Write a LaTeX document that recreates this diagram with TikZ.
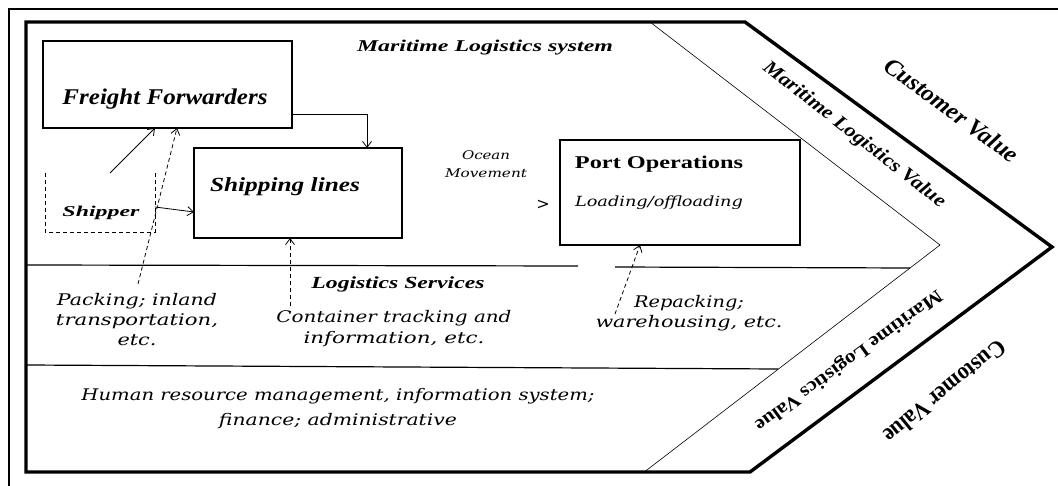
\documentclass[tikz,border=0pt]{standalone}
\usepackage{fontspec}
\usetikzlibrary{arrows.meta}
\setmainfont{DejaVu Serif}
\newfontfamily\tnr{Liberation Serif}
\newfontfamily\dvs{DejaVu Serif}
\newcommand{\fitw}[2]{\resizebox{#1}{\height}{#2}}
\begin{document}
\begin{tikzpicture}[x=1pt,y=-1pt,
  box/.style={draw, line width=2.6pt, inner sep=0pt, outer sep=0pt},
  arr/.style={line width=0.8pt, -{Straight Barb[length=6pt,width=9pt]}},
  darr/.style={arr, dash pattern=on 4pt off 3pt},
  sep/.style={line width=1.2pt},
  txt/.style={inner sep=0pt, align=center},
  bi/.style={txt, font={\tnr\bfseries\itshape\fontsize{#1}{#1}\selectfont}},
  bu/.style={txt, font={\tnr\bfseries\fontsize{#1}{#1}\selectfont}},
  it/.style={txt, font={\dvs\itshape\fontsize{#1}{20}\selectfont}}
]
\useasboundingbox (0,0) rectangle (1058,486);
\fill[white] (0,0) rectangle (1058,486);
% frames
\draw[line width=1.2pt] (9,486) -- (9,9) -- (1058,9);
\draw[line width=3.4pt, line join=miter] (26,22) -- (745,22) -- (1052,247) -- (750,472) -- (26,472) -- cycle;
\draw[line width=0.6pt] (650,22) -- (940,245) -- (643,473);
\draw[sep] (26,265) -- (578,266);
\draw[sep] (615,267) -- (910,268);
\draw[sep] (26,365) -- (778,369);
% boxes
\node[box, minimum width=249pt, minimum height=87pt] (ff) at (167.5,84.5) {};
\node[box, minimum width=208pt, minimum height=90pt] (sl) at (298,193) {};
\node[box, minimum width=240pt, minimum height=105pt] (po) at (680,192.5) {};
\node[inner sep=0pt, outer sep=0pt, minimum width=110pt, minimum height=59pt] (shp) at (100,202.5) {};
\draw[line width=0.9pt, dash pattern=on 4pt off 3pt] (shp.north west) -- (shp.south west) -- (shp.south east) -- (shp.north east);
% connectors
\draw[arr] (ff.east |- 0,114) -| (367,0 |- sl.north);
\coordinate (s1) at (110,173);
\draw[arr] (s1) -- (155,0 |- ff.south);
\coordinate (pk) at (138,284);
\draw[darr] (pk) -- (177,0 |- ff.south);
\draw[arr] (shp.east |- 0,207) -- (sl.west |- 0,212);
\coordinate (ct) at (290,306);
\draw[darr] (ct) -- (ct |- sl.south);
\coordinate (rp) at (615,314);
\draw[darr] (rp) -- (640,0 |- po.south);
% texts
\node[bi=16.5] (t1) at (485,48) {\fitw{256pt}{Maritime Logistics system}};
\node[bi=22.5] (t2) at (165,99) {\fitw{205pt}{Freight Forwarders}};
\node[bi=20] (t3) at (285,187) {\fitw{150pt}{Shipping lines}};
\node[bi=15] (t4) at (101,213) {\fitw{77pt}{Shipper}};
\node[bi=17] (t5) at (398,284) {\fitw{173pt}{Logistics Services}};
\node[bu=18] (t6) at (659,164) {\fitw{168pt}{Port Operations}};
\node[it=14] (t7) at (659,203) {\fitw{168pt}{Loading/offloading}};
\node[txt, font={\dvs\itshape\fontsize{12}{18}\selectfont}] (t8) at (486,164) {\fitw{48pt}{Ocean}\\\fitw{82pt}{Movement}};
\node[txt, font={\dvs\fontsize{16}{16}\selectfont}] (t9) at (543,205) {>};
\node[it=16] (t10) at (137,320) {\fitw{160pt}{Packing; inland}\\\fitw{162pt}{transportation,}\\\fitw{39pt}{etc.}};
\node[txt, font={\dvs\itshape\fontsize{16}{21}\selectfont}] (t11) at (394,329) {\fitw{235pt}{Container tracking and}\\\fitw{181pt}{information, etc.}};
\node[it=16] (t12) at (689,313) {\fitw{110pt}{Repacking;}\\\fitw{187pt}{warehousing, etc.}};
\node[txt, font={\dvs\itshape\fontsize{16}{25}\selectfont}] (t13) at (338,409) {\fitw{513pt}{Human resource management, information system;}\\\fitw{238pt}{finance; administrative}};
% rotated
\node[bi=19.5, rotate=-38] (t14) at (854,135) {\fitw{226pt}{Maritime Logistics Value}};
\node[bi=24, rotate=-36.4] (t15) at (952,110) {\fitw{160pt}{Customer Value}};
\node[bu=19, rotate=216.2] (t16) at (848,360) {\fitw{227pt}{Maritime Logistics Value}};
\node[bu=24, rotate=219] (t17) at (945,392) {\fitw{150pt}{Customer Value}};
\end{tikzpicture}
\end{document}
